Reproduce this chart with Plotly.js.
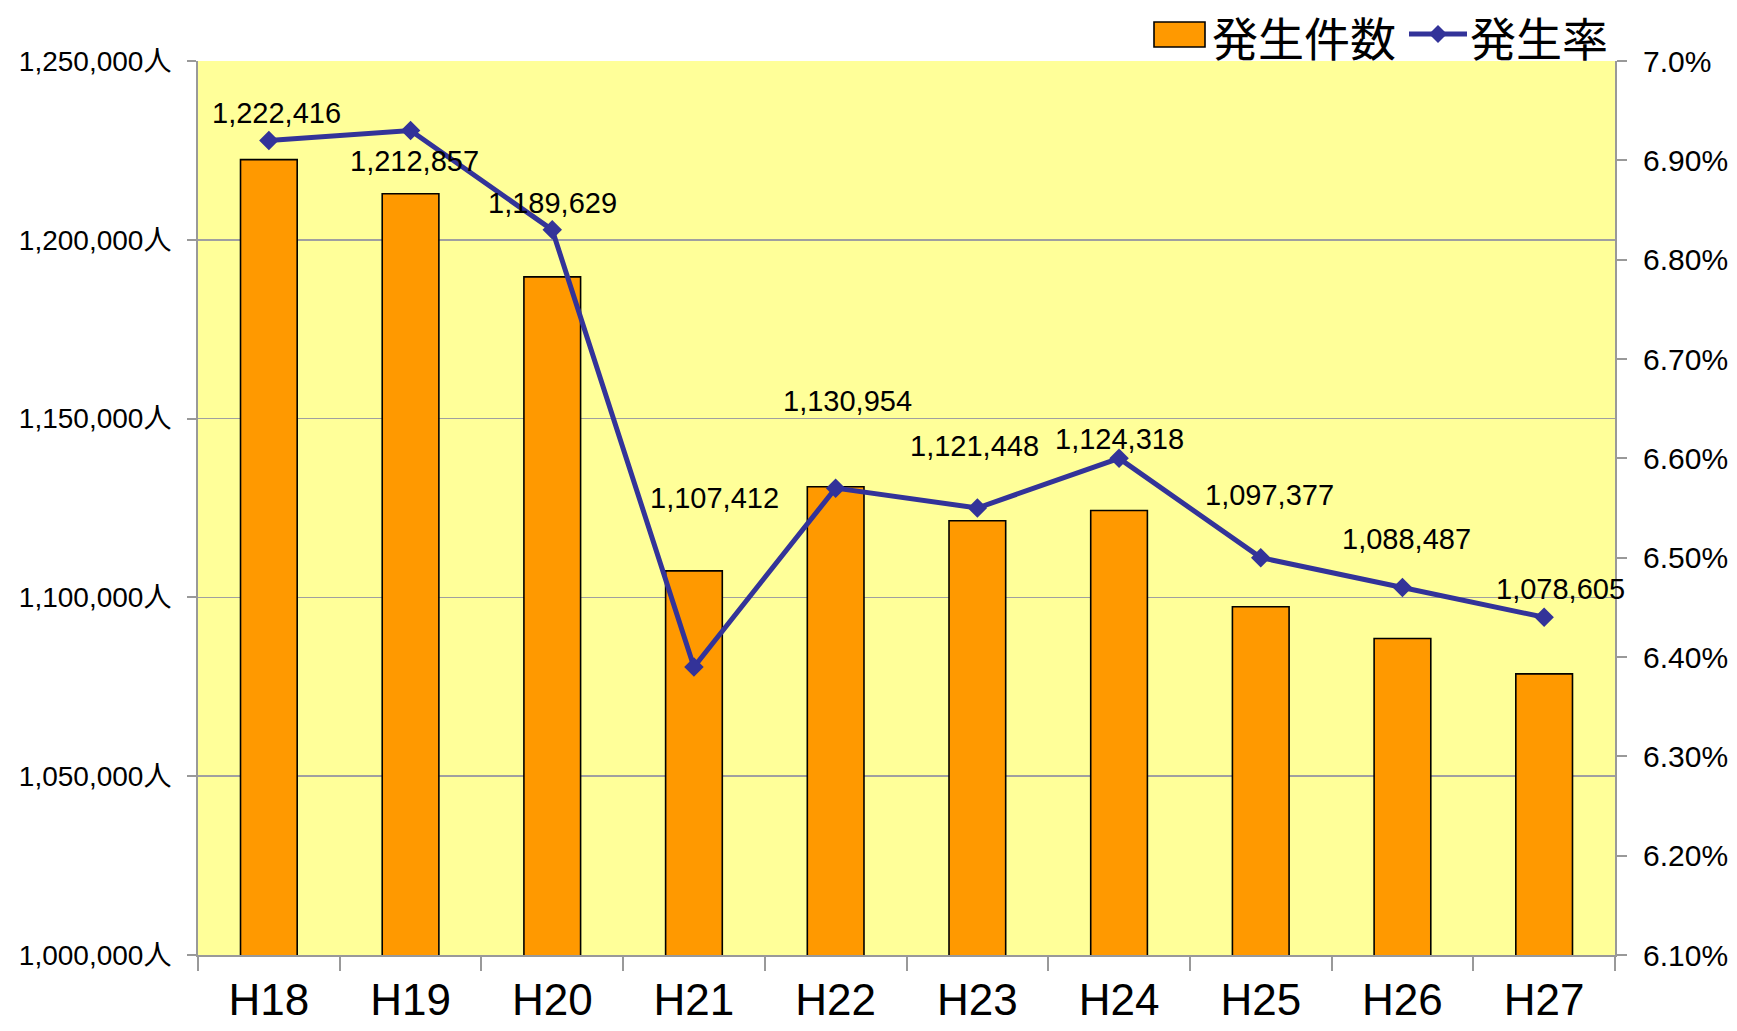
<!DOCTYPE html>
<html>
<head>
<meta charset="utf-8">
<script src="https://cdn.plot.ly/plotly-3.0.1.min.js"></script>
<style>html,body{margin:0;padding:0;background:#fff;}#chart{width:1737px;height:1031px;}</style>
</head>
<body>
<div id="chart"></div>
<script>
// ---- data ----
const categories = ["H18","H19","H20","H21","H22","H23","H24","H25","H26","H27"];
const occurrences = [1222416, 1212857, 1189629, 1107412, 1130954, 1121448, 1124318, 1097377, 1088487, 1078605];
const rates = [6.92, 6.93, 6.83, 6.39, 6.57, 6.55, 6.60, 6.50, 6.47, 6.44];
const countTickVals = [1000000, 1050000, 1100000, 1150000, 1200000, 1250000];
const countTickText = ["1,000,000人","1,050,000人","1,100,000人","1,150,000人","1,200,000人","1,250,000人"];
const rateTickVals = [6.1, 6.2, 6.3, 6.4, 6.5, 6.6, 6.7, 6.8, 6.9, 7.0];
const rateTickText = ["6.10%","6.20%","6.30%","6.40%","6.50%","6.60%","6.70%","6.80%","6.90%","7.0%"];
const seriesNames = ["発生件数", "発生率"];

// ---- label placement (pixel offsets from bar top) ----
const labelDx = [8, 4, 0, 21, 12, -3, 0, 9, 4, 16];
const labelDy = [47, 33, 74, 73, 86, 75, 71, 112, 100, 85];

const FONT = "Liberation Sans, Arial, 'Noto Sans CJK JP', sans-serif";
const CJK = "'Noto Sans CJK JP', sans-serif";
const W = 1737, H = 1031;
const M = {l: 198, r: 122, t: 61, b: 76};
const PW = W - M.l - M.r, PH = H - M.t - M.b;
const px = v => (v - M.l) / PW;          // pixel x -> paper x
const py = v => (H - M.b - v) / PH;      // pixel y -> paper y

const barColor = "#FF9900", lineColor = "#333399";

const barTrace = {
  type: "bar",
  name: seriesNames[0],
  x: categories,
  y: occurrences,
  width: 0.4,
  marker: {color: barColor, line: {color: "#000000", width: 1.6}},
  yaxis: "y",
  hoverinfo: "x+y"
};
const lineTrace = {
  type: "scatter",
  mode: "lines+markers",
  name: seriesNames[1],
  x: categories,
  y: rates,
  yaxis: "y2",
  line: {color: lineColor, width: 5},
  marker: {symbol: "diamond", size: 15, color: lineColor}
};

const annotations = categories.map((c, i) => ({
  x: c, y: occurrences[i], xref: "x", yref: "y",
  text: occurrences[i].toLocaleString("en-US"),
  showarrow: false,
  xshift: labelDx[i], yshift: labelDy[i],
  font: {family: FONT, size: 29, color: "#000"}
}));

// custom legend (matches original swatch sizes)
annotations.push({
  xref: "paper", yref: "paper", x: px(1210), y: py(36), xanchor: "left", yanchor: "middle",
  text: seriesNames[0], showarrow: false, font: {family: CJK, size: 46, color: "#000"}
});
annotations.push({
  xref: "paper", yref: "paper", x: px(1468), y: py(36), xanchor: "left", yanchor: "middle",
  text: seriesNames[1], showarrow: false, font: {family: CJK, size: 46, color: "#000"}
});
const dX = 9 / PW, dY = 9 / PH, cx = px(1438), cy = py(34);
const shapes = [
  {type: "rect", xref: "paper", yref: "paper", x0: px(1154), x1: px(1205), y0: py(47), y1: py(22),
   fillcolor: barColor, line: {color: "#000", width: 1.6}},
  {type: "line", xref: "paper", yref: "paper", x0: px(1409), x1: px(1467), y0: cy, y1: cy,
   line: {color: lineColor, width: 5}},
  {type: "path", xref: "paper", yref: "paper",
   path: `M ${cx - dX} ${cy} L ${cx} ${cy + dY} L ${cx + dX} ${cy} L ${cx} ${cy - dY} Z`,
   fillcolor: lineColor, line: {color: lineColor, width: 0}}
];

const layout = {
  width: W, height: H,
  margin: {l: M.l, r: M.r, t: M.t, b: M.b, pad: 0, autoexpand: false},
  paper_bgcolor: "#ffffff",
  plot_bgcolor: "#FFFF99",
  showlegend: false,
  bargap: 0.6,
  xaxis: {
    type: "category",
    range: [-0.5, categories.length - 0.5],
    showgrid: false,
    showline: true, linecolor: "#999999", linewidth: 2,
    ticks: "outside", tickson: "boundaries", ticklen: 14, tickcolor: "#999999", tickwidth: 2,
    tickfont: {family: FONT, size: 44, color: "#000"},
    ticklabelstandoff: 5,
    zeroline: false
  },
  yaxis: {
    range: [1000000, 1250000],
    tickvals: countTickVals,
    ticktext: countTickText,
    showgrid: true, gridcolor: "#A0A0A0", gridwidth: 1.5,
    showline: true, linecolor: "#999999", linewidth: 2,
    ticks: "outside", ticklen: 9, tickcolor: "#999999", tickwidth: 2,
    tickfont: {family: FONT, size: 28, color: "#000"},
    ticklabelstandoff: 10,
    zeroline: false
  },
  yaxis2: {
    overlaying: "y", side: "right",
    range: [6.1, 7.0],
    tickvals: rateTickVals, ticktext: rateTickText,
    showgrid: false,
    showline: true, linecolor: "#999999", linewidth: 2,
    ticks: "outside", ticklen: 10, tickcolor: "#999999", tickwidth: 2,
    tickfont: {family: FONT, size: 30, color: "#000"},
    ticklabelstandoff: 10,
    zeroline: false
  },
  annotations: annotations,
  shapes: shapes
};

Plotly.newPlot("chart", [barTrace, lineTrace], layout, {displayModeBar: false, staticPlot: true});
</script>
</body>
</html>
